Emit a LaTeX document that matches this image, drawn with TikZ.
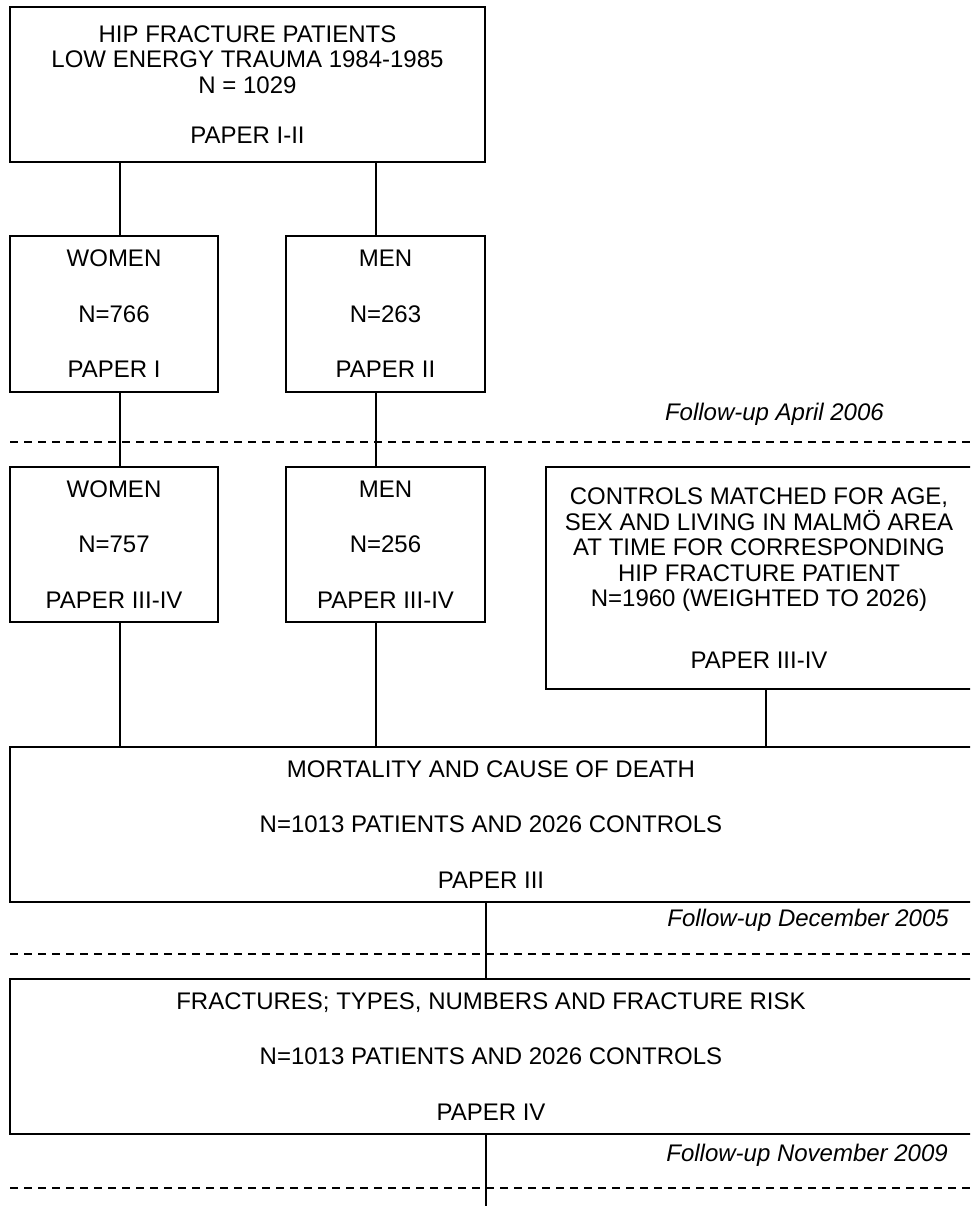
\documentclass[tikz,border=0pt]{standalone}
\usepackage{fontspec}
\setmainfont{Liberation Sans}

\tikzset{
  stagebox/.style={draw, line width=1.6pt, align=center, inner sep=0pt,
    font=\fontsize{24}{25.5}\selectfont},
  link/.style={line width=1.6pt},
  followline/.style={dashed, line width=1.3pt, dash pattern=on 8pt off 6pt},
  followtext/.style={anchor=east, inner sep=0pt, font=\fontsize{24}{25.5}\selectfont\itshape}
}

\begin{document}
\begin{tikzpicture}[x=1pt,y=-1pt]
  \path[use as bounding box] (0,0) rectangle (970,1206);
  \clip (0,0) rectangle (970,1206);

  %cohort at start
  \node[stagebox, minimum width=475, minimum height=155] (top) at (247.5,84.5)
    {HIP FRACTURE PATIENTS\\LOW ENERGY TRAUMA 1984-1985\\N = 1029\\[25pt]PAPER I-II};

  %papers I and II
  \node[stagebox, minimum width=208, minimum height=156] (wom1) at (114,314)
    {WOMEN\\[30pt]N=766\\[30pt]PAPER I};
  \node[stagebox, minimum width=199, minimum height=156] (men1) at (385.5,314)
    {MEN\\[30pt]N=263\\[30pt]PAPER II};

  %papers III and IV
  \node[stagebox, minimum width=208, minimum height=155] (wom2) at (114,544.5)
    {WOMEN\\[30pt]N=757\\[30pt]PAPER III-IV};
  \node[stagebox, minimum width=199, minimum height=155] (men2) at (385.5,544.5)
    {MEN\\[30pt]N=256\\[30pt]PAPER III-IV};
  \node[stagebox, minimum width=426, minimum height=222] (ctrl) at (759,578)
    {CONTROLS MATCHED FOR AGE,\\SEX AND LIVING IN MALMÖ AREA\\AT TIME FOR CORRESPONDING\\HIP FRACTURE PATIENT\\N=1960 (WEIGHTED TO 2026)\\[36pt]PAPER III-IV};

  \node[stagebox, minimum width=962, minimum height=155] (mort) at (491,824.5)
    {MORTALITY AND CAUSE OF DEATH\\[30pt]N=1013 PATIENTS AND 2026 CONTROLS\\[30pt]PAPER III};
  \node[stagebox, minimum width=962, minimum height=155] (frac) at (491,1056.5)
    {FRACTURES; TYPES, NUMBERS AND FRACTURE RISK\\[30pt]N=1013 PATIENTS AND 2026 CONTROLS\\[30pt]PAPER IV};

  %follow-up lines
  \coordinate (apl) at (10,442);  \coordinate (apr) at (970,442);
  \coordinate (del) at (10,954);  \coordinate (der) at (970,954);
  \coordinate (nol) at (10,1188); \coordinate (nor) at (970,1188);
  \draw[followline] (apl) -- (apr);
  \draw[followline] (del) -- (der);
  \draw[followline] (nol) -- (nor);
  \node[followtext] (fapr) at (884,414) {Follow-up April 2006};
  \node[followtext] (fdec) at (949,920) {Follow-up December 2005};
  \node[followtext] (fnov) at (948,1155) {Follow-up November 2009};

  %connectors
  \coordinate (wx) at (120,0);
  \coordinate (mx) at (376,0);
  \coordinate (cx) at (766,0);
  \coordinate (tail) at (486,1206);
  \draw[link] (top.south -| wx) -- (wom1.north -| wx);
  \draw[link] (top.south -| mx) -- (men1.north -| mx);
  \draw[link] (wom1.south -| wx) -- (wom2.north -| wx);
  \draw[link] (men1.south -| mx) -- (men2.north -| mx);
  \draw[link] (wom2.south -| wx) -- (mort.north -| wx);
  \draw[link] (men2.south -| mx) -- (mort.north -| mx);
  \draw[link] (ctrl.south -| cx) -- (mort.north -| cx);
  \draw[link] (mort.south -| tail) -- (frac.north -| tail);
  \draw[link] (frac.south -| tail) -- (tail);
\end{tikzpicture}
\end{document}
